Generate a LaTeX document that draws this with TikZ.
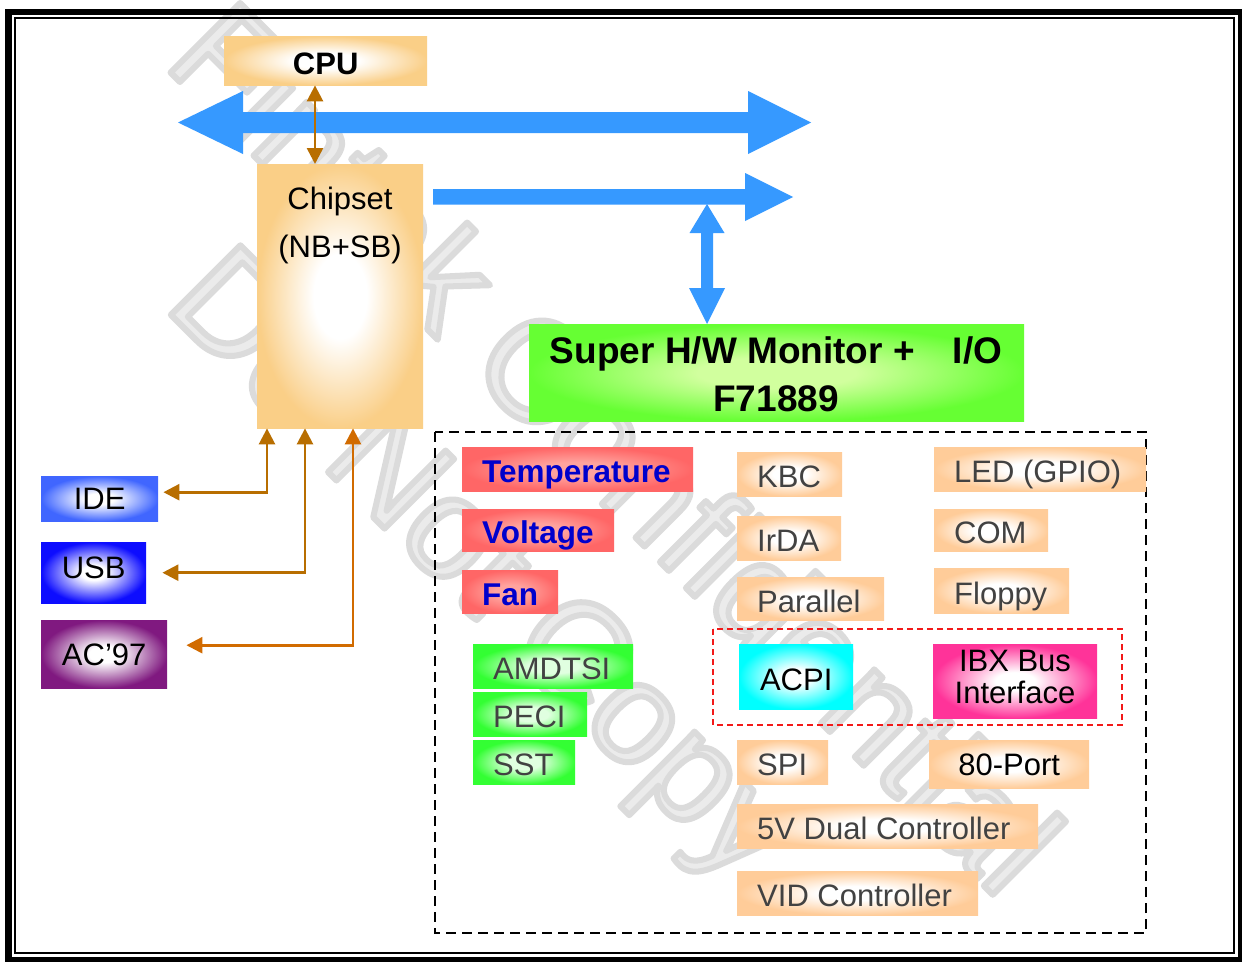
\documentclass[tikz,border=0pt]{standalone}
\usepackage{fontspec}
\setmainfont{Liberation Sans}
\usetikzlibrary{arrows.meta}
\definecolor{busblue}{rgb}{0.21,0.6,1}
\definecolor{brA}{rgb}{0.72,0.43,0.0}
\definecolor{brB}{rgb}{0.82,0.42,0.0}
\definecolor{lgray}{rgb}{0.26,0.26,0.26}
\definecolor{tblue}{rgb}{0.0,0.0,0.8}
\definecolor{wmgray}{rgb}{0.92,0.92,0.92}
\definecolor{dred}{rgb}{0.95,0.1,0.1}
\pgfdeclareradialshading{gOrange}{\pgfpoint{0bp}{0bp}}{rgb(0bp)=(1,1,1);rgb(8bp)=(1,1,1);rgb(25bp)=(0.98,0.81,0.53);rgb(50bp)=(0.98,0.81,0.53)}
\pgfdeclareradialshading{gPeach}{\pgfpoint{0bp}{0bp}}{rgb(0bp)=(1,1,1);rgb(8bp)=(1,1,1);rgb(25bp)=(1,0.8,0.6);rgb(50bp)=(1,0.8,0.6)}
\pgfdeclareradialshading{gSuper}{\pgfpoint{0bp}{0bp}}{rgb(0bp)=(0.82,1,0.62);rgb(8bp)=(0.82,1,0.62);rgb(25bp)=(0.4,1,0.2);rgb(50bp)=(0.4,1,0.2)}
\pgfdeclareradialshading{gRed}{\pgfpoint{0bp}{0bp}}{rgb(0bp)=(1,0.64,0.62);rgb(8bp)=(1,0.64,0.62);rgb(25bp)=(1,0.4,0.4);rgb(50bp)=(1,0.4,0.4)}
\pgfdeclareradialshading{gGreen}{\pgfpoint{0bp}{0bp}}{rgb(0bp)=(0.88,1,0.88);rgb(8bp)=(0.88,1,0.88);rgb(25bp)=(0.2,1,0.2);rgb(50bp)=(0.2,1,0.2)}
\pgfdeclareradialshading{gIDE}{\pgfpoint{0bp}{0bp}}{rgb(0bp)=(1,1,1);rgb(6bp)=(1,1,1);rgb(25bp)=(0.25,0.4,1);rgb(50bp)=(0.25,0.4,1)}
\pgfdeclareradialshading{gUSB}{\pgfpoint{0bp}{0bp}}{rgb(0bp)=(1,1,1);rgb(6bp)=(1,1,1);rgb(25bp)=(0.05,0.05,1);rgb(50bp)=(0.05,0.05,1)}
\pgfdeclareradialshading{gAC}{\pgfpoint{0bp}{0bp}}{rgb(0bp)=(1,1,1);rgb(6bp)=(1,1,1);rgb(25bp)=(0.5,0.1,0.5);rgb(50bp)=(0.5,0.1,0.5)}
\pgfdeclareradialshading{gCyan}{\pgfpoint{0bp}{0bp}}{rgb(0bp)=(1,1,1);rgb(6bp)=(1,1,1);rgb(25bp)=(0,1,1);rgb(50bp)=(0,1,1)}
\pgfdeclareradialshading{gPink}{\pgfpoint{0bp}{0bp}}{rgb(0bp)=(1,1,1);rgb(6bp)=(1,1,1);rgb(25bp)=(1,0.2,0.6);rgb(50bp)=(1,0.2,0.6)}
\newcommand\leftbox[7]{%
  \pgfmathsetmacro\bw{#5-#3}\pgfmathsetmacro\bh{#6-#4}\pgfmathsetmacro\tw{\bw-40}%
  \node[#1, minimum width=\bw pt, minimum height=\bh pt] (#2) at (#3,#4) {\hbox to \tw pt{#7\hss}};}
\newcommand\centbox[7]{%
  \pgfmathsetmacro\bw{#5-#3}\pgfmathsetmacro\bh{#6-#4}%
  \node[#1, minimum width=\bw pt, minimum height=\bh pt] (#2) at (#3,#4) {#7};}
\newcommand\wmstroke{\special{pdf:literal direct 2 Tr 6 w 1 j 0.86 G}}
\begin{document}
\begin{tikzpicture}[x=1pt,y=-1pt,
  box/.style={inner sep=0pt, anchor=north west, shade, shading=#1, text height=27pt, text depth=0pt},
  lab/.style={font=\fontsize{31}{33}\selectfont, text=lgray},
  blab/.style={font=\bfseries\fontsize{31.5}{33}\selectfont, text=tblue},
  klab/.style={font=\fontsize{31}{33}\selectfont, text=black},
  sup/.style={font=\bfseries\fontsize{37}{40}\selectfont, text=black, inner sep=0pt},
  wm/.style={font=\fontsize{143}{150}\selectfont, text=wmgray, rotate=-45, inner sep=0pt, anchor=base},
  brarr/.style={draw=#1, line width=2.6pt, {Triangle[length=16pt,width=16pt]}-{Triangle[length=16pt,width=16pt]}},
  bus/.style={fill=busblue},
  grp/.style={draw=black, line width=2.4pt, dash pattern=on 10pt off 6pt},
  sub/.style={draw=dred, line width=1.8pt, dash pattern=on 6pt off 4pt}]
\path[use as bounding box, clip] (0,0) rectangle (1242,961);
\fill[white] (0,0) rectangle (1242,961);
% watermark
\node[wm] (wm1) at (581,483) {\wmstroke Fintek Confidential};
\node[wm] (wm2) at (452,596) {\wmstroke Do Not Copy};
% frame
\draw[line width=6.5pt] (8.5,12) rectangle (1241.3,960.3);
\draw[line width=2pt] (15.2,18) rectangle (1234,953);
% buses
\fill[bus] (178,122.5) -- (243,91) -- (243,112) -- (748,112) -- (748,91) -- (811,122.5) -- (748,154) -- (748,133) -- (243,133) -- (243,154) -- cycle;
\fill[bus] (433,189) -- (745,189) -- (745,173) -- (793,197) -- (745,221) -- (745,204.5) -- (433,204.5) -- cycle;
\fill[bus] (707,204) -- (724.5,233) -- (713,233) -- (713,288) -- (725,288) -- (707,324) -- (689,288) -- (701,288) -- (701,233) -- (689.5,233) -- cycle;
% CPU and chipset
\centbox{box=gOrange, font=\bfseries\fontsize{31}{33}\selectfont, text height=28pt}{cpu}{224}{36}{427}{85}{CPU\hspace{10pt}}
\centbox{box=gOrange}{chip}{257}{164}{423}{428}{}
\node[klab, anchor=base, inner sep=0pt] (chipt1) at (340,209) {Chipset};
\node[klab, anchor=base, inner sep=0pt] (chipt2) at (340,257) {(NB+SB)};
% Super I/O
\centbox{box=gSuper}{sio}{529}{324}{1024}{421}{}
\node[sup, anchor=base] (siot1) at (776,363) {Super H/W Monitor +\hspace{38pt}I/O};
\node[sup, anchor=base] (siot2) at (776,411) {F71889};
% left devices
\centbox{box=gIDE, klab, text height=22pt}{ide}{41}{476}{158}{521}{IDE}
\centbox{box=gUSB, klab, text height=12pt}{usb}{41}{542}{146}{603}{USB}
\centbox{box=gAC, klab, text height=22pt}{ac}{41}{620}{167}{688}{AC'97}
% connectors
\draw[brarr=brA] ([xshift=91pt]cpu.south west) -- ([xshift=58pt]chip.north west);
\draw[brarr=brA] ([xshift=10pt]chip.south west) |- ([xshift=5pt,yshift=6.5pt]ide.east);
\draw[brarr=brA] ([xshift=48pt]chip.south west) |- ([xshift=16pt]usb.east);
\draw[brarr=brB] ([xshift=96pt]chip.south west) |- ([xshift=19pt,yshift=9pt]ac.east);
% group boxes
\draw[grp] (435,432) rectangle (1146,933);
\draw[sub] (713,629) rectangle (1122,725);
% functions
\leftbox{box=gRed, blab}{temp}{462}{447}{693}{491}{Temperature}
\leftbox{box=gRed, blab}{volt}{462}{509}{614}{551}{Voltage}
\leftbox{box=gRed, blab}{fan}{462}{570}{558}{613}{Fan}
\leftbox{box=gGreen, lab}{amd}{473}{644}{633}{688}{AMDTSI}
\leftbox{box=gGreen, lab}{peci}{473}{692}{587}{736}{PECI}
\leftbox{box=gGreen, lab}{sst}{473}{740}{575}{784}{SST}
\leftbox{box=gPeach, lab}{kbc}{737}{452}{842}{496}{KBC}
\leftbox{box=gPeach, lab}{irda}{737}{516}{841}{560}{IrDA}
\leftbox{box=gPeach, lab}{par}{737}{577}{884}{620}{Parallel}
\leftbox{box=gPeach, lab}{led}{934}{447}{1146}{491}{LED (GPIO)}
\leftbox{box=gPeach, lab}{com}{934}{509}{1048}{551}{COM}
\leftbox{box=gPeach, lab}{flp}{934}{568}{1069}{613}{Floppy}
\centbox{box=gCyan, klab}{acpi}{739}{644}{853}{709}{ACPI}
\centbox{box=gPink}{ibx}{933}{644}{1097}{718}{}
\node[klab, anchor=base, inner sep=0pt] (ibxt1) at (1015,671) {IBX Bus};
\node[klab, anchor=base, inner sep=0pt] (ibxt2) at (1015,703) {Interface};
\leftbox{box=gPeach, lab}{spi}{737}{740}{828}{784}{SPI}
\centbox{box=gPeach, klab, text height=22pt}{port}{929}{740}{1089}{788}{80-Port}
\leftbox{box=gPeach, lab}{dual}{737}{804}{1038}{848}{5V Dual Controller}
\leftbox{box=gPeach, lab}{vid}{737}{871}{978}{915}{VID Controller}
\end{tikzpicture}
\end{document}
